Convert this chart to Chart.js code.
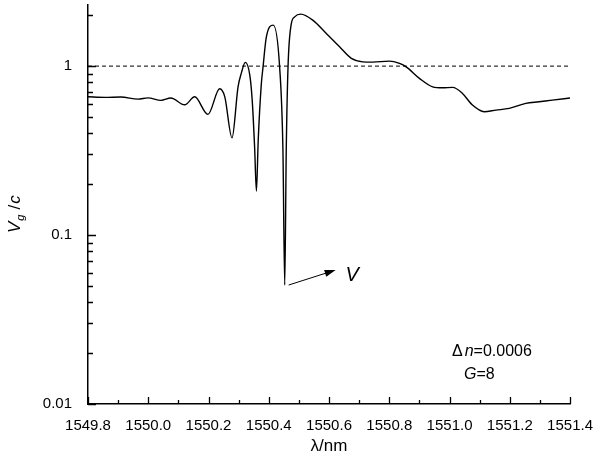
<!DOCTYPE html>
<html>
<head>
<meta charset="utf-8">
<script src="https://cdn.jsdelivr.net/npm/chart.js@4.4.0/dist/chart.umd.min.js"></script>
<style>
  html, body { margin: 0; padding: 0; background: #fff; }
  #wrap { width: 598px; height: 457px; }
</style>
</head>
<body>
<div id="wrap"><canvas id="vgChart" width="598" height="457"></canvas></div>
<script>
// wavelength (nm) and normalised group velocity Vg/c
const wavelength = [
  1549.800, 1549.856, 1549.909, 1549.966, 1549.999, 1550.042, 1550.075, 1550.121,
  1550.154, 1550.198, 1550.237, 1550.254, 1550.278, 1550.298, 1550.309, 1550.322,
  1550.337, 1550.345, 1550.353, 1550.359, 1550.365, 1550.375, 1550.381, 1550.392,
  1550.415, 1550.436, 1550.447, 1550.453, 1550.458, 1550.464, 1550.474, 1550.486,
  1550.506, 1550.546, 1550.591, 1550.635, 1550.674, 1550.712, 1550.745, 1550.800,
  1550.834, 1550.856, 1550.900, 1550.944, 1550.977, 1551.010, 1551.043, 1551.076,
  1551.115, 1551.154, 1551.198, 1551.253, 1551.297, 1551.341, 1551.400
];
const groupVelocity = [
  0.658, 0.653, 0.656, 0.638, 0.649, 0.627, 0.647, 0.590,
  0.658, 0.518, 0.734, 0.658, 0.376, 0.754, 0.909, 1.052,
  0.885, 0.629, 0.332, 0.182, 0.365, 0.772, 0.990, 1.490,
  1.748, 0.990, 0.318, 0.0506, 0.318, 1.000, 1.748, 1.957,
  2.030, 1.872, 1.561, 1.301, 1.111, 1.060, 1.056, 1.070,
  1.037, 0.990, 0.846, 0.754, 0.744, 0.748, 0.689, 0.588,
  0.537, 0.549, 0.562, 0.602, 0.615, 0.629, 0.647
];
const unityX = [1549.8, 1551.4];
const unityY = [1, 1];

const xTicks = [1549.8, 1549.9, 1550.0, 1550.1, 1550.2, 1550.3, 1550.4, 1550.5, 1550.6,
                1550.7, 1550.8, 1550.9, 1551.0, 1551.1, 1551.2, 1551.3, 1551.4];
const xTickLabels = ['1549.8', '', '1550.0', '', '1550.2', '', '1550.4', '', '1550.6',
                     '', '1550.8', '', '1551.0', '', '1551.2', '', '1551.4'];
const yTicks = [0.01, 0.02, 0.03, 0.04, 0.05, 0.06, 0.07, 0.08, 0.09,
                0.1, 0.2, 0.3, 0.4, 0.5, 0.6, 0.7, 0.8, 0.9, 1, 2];
const yTickLabels = ['0.01', '', '', '', '', '', '', '', '',
                     '0.1', '', '', '', '', '', '', '', '', '1', ''];

const FONT = 'Arial, "Liberation Sans", Helvetica, sans-serif';

// inward tick marks, y title with subscript, arrow and notes
const decorations = {
  id: 'decorations',
  afterDraw(chart) {
    const ctx = chart.ctx;
    const xs = chart.scales.x, ys = chart.scales.y;
    const area = chart.chartArea;
    ctx.save();
    ctx.strokeStyle = '#000';
    ctx.lineWidth = 1.3;
    ctx.beginPath();
    xs.ticks.forEach((t, i) => {
      const px = Math.round(xs.getPixelForValue(t.value)) + 0.5;
      const len = xTickLabels[i] ? 7 : 4;
      ctx.moveTo(px, area.bottom);
      ctx.lineTo(px, area.bottom - len);
    });
    ys.ticks.forEach((t, i) => {
      const py = Math.round(ys.getPixelForValue(t.value)) + 0.5;
      const len = yTickLabels[i] ? 8 : 5;
      ctx.moveTo(area.left, py);
      ctx.lineTo(area.left + len, py);
    });
    ctx.stroke();

    // y title: Vg /c
    ctx.fillStyle = '#000';
    ctx.translate(20, 233);
    ctx.rotate(-Math.PI / 2);
    ctx.textBaseline = 'alphabetic';
    ctx.textAlign = 'left';
    ctx.font = 'italic 17px ' + FONT;
    ctx.fillText('V', 0, 0);
    let w = ctx.measureText('V').width;
    ctx.font = 'italic 11px ' + FONT;
    ctx.fillText('g', w + 1, 4);
    w += ctx.measureText('g').width + 6;
    ctx.font = '17px ' + FONT;
    ctx.fillText('/', w, 0);
    w += ctx.measureText('/').width + 1;
    ctx.font = 'italic 17px ' + FONT;
    ctx.fillText('c', w, 0);
    ctx.setTransform(1, 0, 0, 1, 0, 0);

    // arrow pointing at the deep dip
    const x0 = xs.getPixelForValue(1550.466), y0 = ys.getPixelForValue(0.0506);
    const x1 = xs.getPixelForValue(1550.622), y1 = ys.getPixelForValue(0.0621);
    const ang = Math.atan2(y1 - y0, x1 - x0);
    ctx.lineWidth = 1;
    ctx.beginPath();
    ctx.moveTo(x0, y0);
    ctx.lineTo(x1 - 8 * Math.cos(ang), y1 - 8 * Math.sin(ang));
    ctx.stroke();
    ctx.beginPath();
    ctx.moveTo(x1, y1);
    ctx.lineTo(x1 - 11 * Math.cos(ang) + 3.5 * Math.sin(ang), y1 - 11 * Math.sin(ang) - 3.5 * Math.cos(ang));
    ctx.lineTo(x1 - 11 * Math.cos(ang) - 3.5 * Math.sin(ang), y1 - 11 * Math.sin(ang) + 3.5 * Math.cos(ang));
    ctx.closePath();
    ctx.fill();
    ctx.font = 'italic 20px ' + FONT;
    ctx.fillText('V', xs.getPixelForValue(1550.655), ys.getPixelForValue(0.0534));

    // parameter notes
    let tx = 452;
    ctx.font = '16px ' + FONT;
    ctx.fillText('\u0394', tx, 356);
    tx += ctx.measureText('\u0394').width + 2;
    ctx.font = 'italic 16px ' + FONT;
    ctx.fillText('n', tx, 356);
    tx += ctx.measureText('n').width;
    ctx.font = '16px ' + FONT;
    ctx.fillText('=0.0006', tx, 356);

    tx = 464;
    ctx.font = 'italic 16px ' + FONT;
    ctx.fillText('G', tx, 379);
    tx += ctx.measureText('G').width;
    ctx.font = '16px ' + FONT;
    ctx.fillText('=8', tx, 379);
    ctx.restore();
  }
};

new Chart(document.getElementById('vgChart'), {
  type: 'line',
  data: {
    datasets: [{
      label: 'Vg/c',
      data: wavelength.map((x, i) => ({ x: x, y: groupVelocity[i] })),
      borderColor: '#000',
      borderWidth: 1.4,
      pointRadius: 0,
      cubicInterpolationMode: 'monotone',
      fill: false
    }, {
      label: 'unity',
      data: unityX.map((x, i) => ({ x: x, y: unityY[i] })),
      borderColor: '#000',
      borderWidth: 1,
      borderDash: [4, 3],
      pointRadius: 0,
      fill: false
    }]
  },
  options: {
    responsive: false,
    animation: false,
    devicePixelRatio: 1,
    layout: { padding: { top: 5, right: 27, bottom: 0, left: 0 } },
    plugins: {
      legend: { display: false },
      tooltip: { enabled: false }
    },
    scales: {
      x: {
        type: 'linear',
        min: 1549.8,
        max: 1551.4,
        afterBuildTicks: s => { s.ticks = xTicks.map(v => ({ value: v })); },
        afterFit: s => { s.height = 53; },
        grid: { display: false },
        border: { display: true, color: '#000', width: 1.5 },
        ticks: {
          autoSkip: false,
          maxRotation: 0,
          minRotation: 0,
          padding: 5,
          color: '#000',
          font: { family: FONT, size: 15 },
          callback: (v, i) => xTickLabels[i]
        },
        title: {
          display: true,
          text: '\u03bb/nm',
          color: '#000',
          font: { family: FONT, size: 17 },
          padding: { top: 0, bottom: 0 }
        }
      },
      y: {
        type: 'logarithmic',
        min: 0.01,
        max: 2.3,
        afterBuildTicks: s => { s.ticks = yTicks.map(v => ({ value: v })); },
        afterFit: s => { s.width = 88; s.paddingTop = 0; s.paddingBottom = 0; },
        grid: { display: false },
        border: { display: true, color: '#000', width: 1.5 },
        ticks: {
          autoSkip: false,
          padding: 8,
          color: '#000',
          font: { family: FONT, size: 15 },
          callback: (v, i) => yTickLabels[i]
        }
      }
    }
  },
  plugins: [decorations]
});
</script>
</body>
</html>
